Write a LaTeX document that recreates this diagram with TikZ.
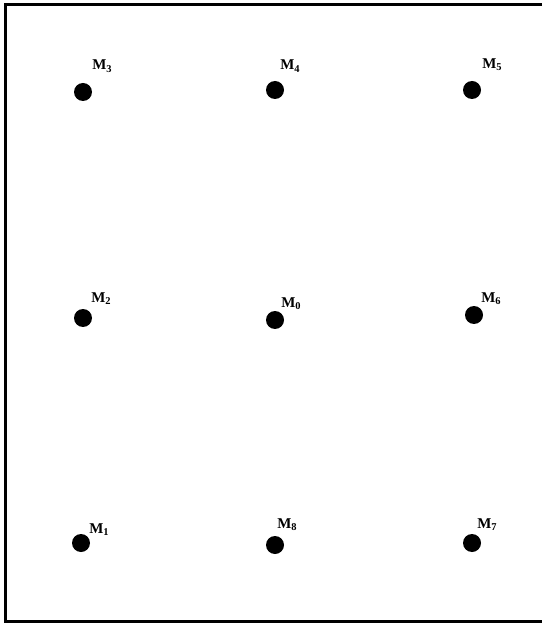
\documentclass[tikz,border=0pt]{standalone}
\usepackage{fontspec}
\setmainfont{Liberation Serif}
\usepackage{tikz}
\usetikzlibrary{positioning}

\begin{document}
\begin{tikzpicture}[x=0.02cm, y=-0.02cm,
    mdot/.style={circle, fill=black, inner sep=0pt, minimum size=0.36cm},
    mlabel/.style={anchor=base west, inner sep=0pt, font=\fontsize{8.5}{10}\selectfont\bfseries}]
  \useasboundingbox (0,0) rectangle (542,624);
  \draw[line width=1.7pt] (542,5) -- (5.5,5) -- (5.5,621) -- (542,621);

  \node[mdot] (m3) at (83,92) {};
  \node[mdot] (m4) at (275,90) {};
  \node[mdot] (m5) at (472,90) {};
  \node[mdot] (m2) at (83,318) {};
  \node[mdot] (m0) at (275,320) {};
  \node[mdot] (m6) at (474,315) {};
  \node[mdot] (m1) at (81,543) {};
  \node[mdot] (m8) at (275,545) {};
  \node[mdot] (m7) at (472,543) {};

  \node[mlabel] (l3) at (92,70) {M\textsubscript{3}};
  \node[mlabel] (l4) at (280,70) {M\textsubscript{4}};
  \node[mlabel] (l5) at (482,69) {M\textsubscript{5}};
  \node[mlabel] (l2) at (91,302) {M\textsubscript{2}};
  \node[mlabel] (l0) at (281,307) {M\textsubscript{0}};
  \node[mlabel] (l6) at (481,302) {M\textsubscript{6}};
  \node[mlabel] (l1) at (89,533) {M\textsubscript{1}};
  \node[mlabel] (l8) at (277,528) {M\textsubscript{8}};
  \node[mlabel] (l7) at (477,528) {M\textsubscript{7}};
\end{tikzpicture}
\end{document}
